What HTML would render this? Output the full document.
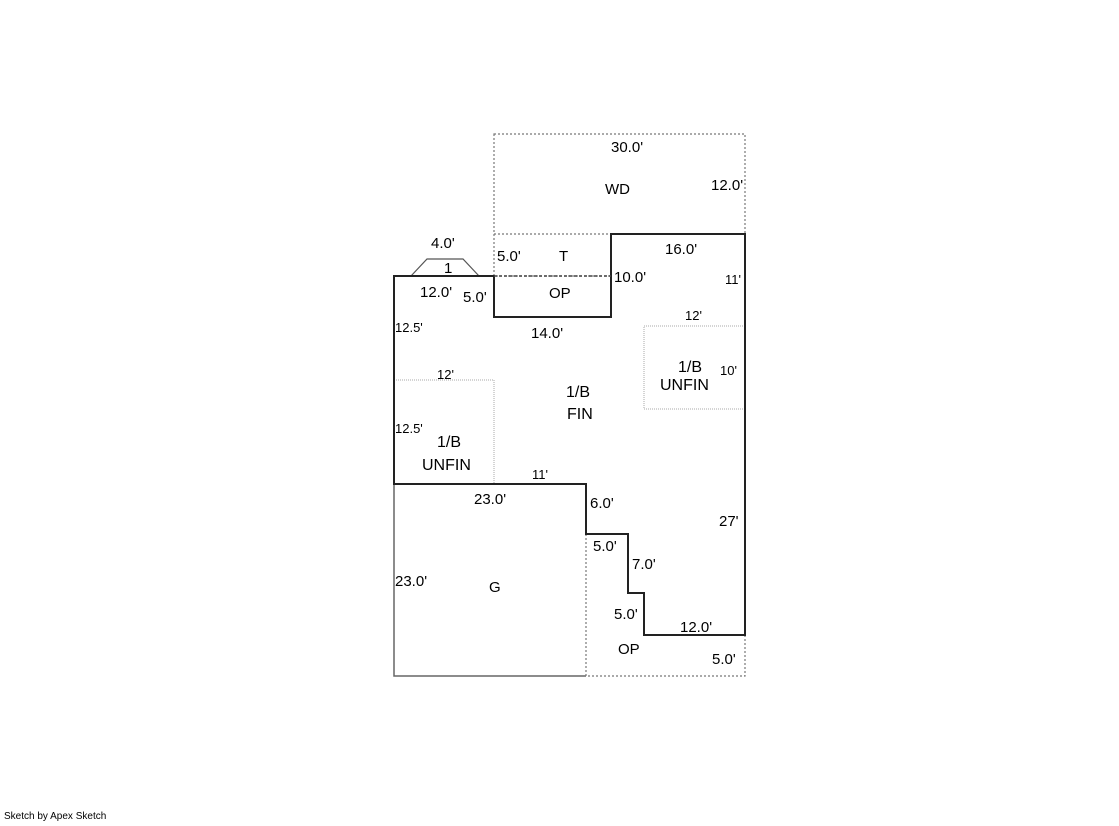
<!DOCTYPE html>
<html><head><style>
html,body{margin:0;padding:0;background:#fff}
svg text{font-family:"Liberation Sans",Arial,sans-serif;fill:#000}
</style></head><body>
<svg width="1119" height="821" viewBox="0 0 1119 821" xmlns="http://www.w3.org/2000/svg">
<g fill="none">
<!-- WD -->
<rect x="494" y="134" width="251" height="100" stroke="#777" stroke-width="1.2" stroke-dasharray="2,2"/>
<!-- T -->
<path d="M494 234 V276 H611" stroke="#777" stroke-width="1.2" stroke-dasharray="2,2"/>
<!-- trapezoid -->
<path d="M411 276 L427 259 H463 L479 276" stroke="#555" stroke-width="1.2"/>
<!-- garage -->
<path d="M394 484 V676 H586" stroke="#666" stroke-width="1.5"/>
<!-- OP bottom dashed -->
<path d="M586 534 V676 H745 V635" stroke="#777" stroke-width="1.2" stroke-dasharray="2,2"/>
<!-- unfin dotted -->
<path d="M394 380 H494 V484" stroke="#aaa" stroke-width="1" stroke-dasharray="1,1"/>
<rect x="644" y="326" width="101" height="83" stroke="#aaa" stroke-width="1" stroke-dasharray="1,1"/>
<!-- main outline -->
<path d="M394 276 H494 V317 H611 V234 H745 V635 H644 V593 H628 V534 H586 V484 H394 Z" stroke="#222" stroke-width="2"/>
<path d="M494 276 H611" stroke="#444" stroke-width="1.5" stroke-dasharray="3,2"/>
</g>
<g font-size="15">
<text x="611" y="152">30.0'</text>
<text x="605" y="194">WD</text>
<text x="711" y="190">12.0'</text>
<text x="431" y="248">4.0'</text>
<text x="444" y="273">1</text>
<text x="497" y="261">5.0'</text>
<text x="559" y="261">T</text>
<text x="665" y="254">16.0'</text>
<text x="420" y="297">12.0'</text>
<text x="463" y="302">5.0'</text>
<text x="549" y="298">OP</text>
<text x="614" y="282">10.0'</text>
<text x="531" y="338">14.0'</text>
<text x="566" y="397" font-size="16">1/B</text>
<text x="567" y="419" font-size="16">FIN</text>
<text x="678" y="372" font-size="16">1/B</text>
<text x="660" y="390" font-size="16">UNFIN</text>
<text x="437" y="447" font-size="16">1/B</text>
<text x="422" y="470" font-size="16">UNFIN</text>
<text x="474" y="504">23.0'</text>
<text x="590" y="508">6.0'</text>
<text x="719" y="526">27'</text>
<text x="593" y="551">5.0'</text>
<text x="632" y="569">7.0'</text>
<text x="395" y="586">23.0'</text>
<text x="489" y="592">G</text>
<text x="614" y="619">5.0'</text>
<text x="680" y="632">12.0'</text>
<text x="618" y="654">OP</text>
<text x="712" y="664">5.0'</text>
</g>
<g font-size="13">
<text x="725" y="284">11'</text>
<text x="685" y="320">12'</text>
<text x="395" y="332">12.5'</text>
<text x="720" y="375">10'</text>
<text x="437" y="379">12'</text>
<text x="395" y="433">12.5'</text>
<text x="532" y="479">11'</text>
</g>
<text x="4" y="819" font-size="10">Sketch by Apex Sketch</text>
</svg>
</body></html>
